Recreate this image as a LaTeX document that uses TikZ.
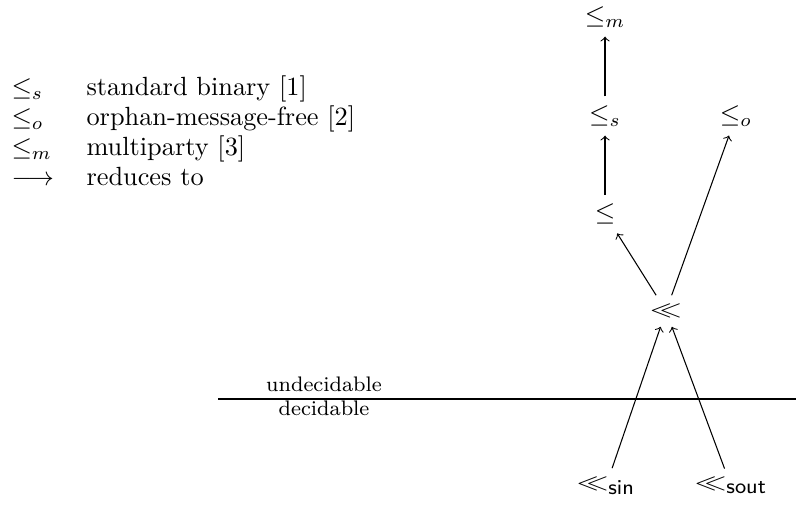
\documentclass[tikz,border=0pt]{standalone}
\usepackage{graphicx}
\newcommand{\wll}{\mathrel{\scalebox{1.2}[0.85]{$\ll$}}}
\begin{document}
\begin{tikzpicture}[x=0.38pt,y=-0.38pt,
  lbl/.style={inner sep=3.33pt},
  red2/.style={->},
  legsym/.style={anchor=base west,inner sep=0pt},
  legtxt/.style={anchor=base west,inner sep=0pt},
  sep/.style={font=\footnotesize,anchor=base}]
\useasboundingbox (0,0) rectangle (796,506);
% legend
\node[legsym] (s1) at (11,96) {$\leq_s$};
\node[legtxt] (t1) at (86,96) {standard binary [1]};
\node[legsym] (s2) at (11,126) {$\leq_o$};
\node[legtxt] (t2) at (86,126) {orphan-message-free [2]};
\node[legsym] (s3) at (11,156) {$\leq_m$};
\node[legtxt] (t3) at (86,156) {multiparty [3]};
\node[legsym] (s4) at (11,186) {$\longrightarrow$};
\node[legtxt] (t4) at (86,186) {reduces to};
% nodes
\node[lbl] (lm) at (605,17) {$\leq_m$};
\node[lbl] (ls) at (605,116) {$\leq_s$};
\node[lbl] (lo) at (736,116) {$\leq_o$};
\node[lbl] (le) at (605,214) {$\leq$};
\node[lbl] (ll) at (666,311) {$\wll$};
\node[lbl] (lsin) at (606,486) {$\wll_{\mbox{\footnotesize\sffamily sin}}$};
\node[lbl] (lsout) at (731,486) {$\wll_{\mbox{\footnotesize\sffamily sout}}$};
% separator
\coordinate (a) at (218,399);
\coordinate (b) at (796,399);
\draw (a) -- (b);
\node[sep] (und) at (324,391) {undecidable};
\node[sep] (dec) at (324,416) {decidable};
% edges
\draw[red2] (ls) -- (lm);
\draw[red2] (le) -- (ls);
\draw[red2] (ll) -- (le);
\draw[red2] (ll) -- (lo);
\draw[red2] (lsin) -- (ll);
\draw[red2] (lsout) -- (ll);
\end{tikzpicture}
\end{document}
